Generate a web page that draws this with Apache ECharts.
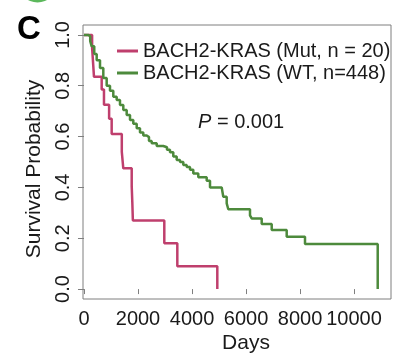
<!DOCTYPE html>
<html>
<head>
<meta charset="utf-8">
<script src="https://cdn.jsdelivr.net/npm/echarts@6/dist/echarts.min.js"></script>
<style>
  html, body { margin: 0; padding: 0; background: #fff; }
  #main { width: 399px; height: 356px; }
</style>
</head>
<body>
<div id="main"></div>
<script>
// Kaplan-Meier curves (days, survival after the drop)
const mutDays = [0, 300, 370, 655, 740, 930, 1025, 1400, 1455, 1767, 1790, 1810, 2974, 3456, 4937];
const mutSurv = [1.0, 0.95, 0.835, 0.785, 0.725, 0.67, 0.61, 0.54, 0.475, 0.405, 0.34, 0.27, 0.18, 0.09, 0.0];

const wtDays = [0, 150, 230, 285, 380, 470, 593, 715, 840, 963, 1085, 1211, 1333, 1456, 1581, 1704,
  1826, 1952, 2074, 2196, 2322, 2407, 2507, 2693, 2937, 3074, 3185, 3307, 3433, 3556, 3678, 3804,
  3926, 4048, 4233, 4544, 4667, 5100, 5159, 5285, 5344, 6148, 6210, 6581, 6952, 7507, 8185, 10878];
const wtSurv = [1.0, 0.995, 0.975, 0.955, 0.925, 0.9, 0.87, 0.83, 0.8, 0.78, 0.757, 0.744, 0.724, 0.705, 0.685, 0.665,
  0.65, 0.633, 0.616, 0.604, 0.598, 0.583, 0.574, 0.563, 0.558, 0.548, 0.538, 0.522, 0.508, 0.5, 0.488, 0.48,
  0.47, 0.455, 0.44, 0.426, 0.4, 0.396, 0.363, 0.337, 0.314, 0.29, 0.278, 0.256, 0.232, 0.206, 0.177, 0.0];

const seriesNames = ['BACH2-KRAS (Mut, n = 20)', 'BACH2-KRAS (WT, n=448)'];
const xTicks = [0, 2000, 4000, 6000, 8000, 10000];
const yTicks = [0, 0.2, 0.4, 0.6, 0.8, 1.0];

const mutColor = '#bf3f6d';
const wtColor = '#4d8a3c';
const font = 'Liberation Sans, Arial, Helvetica, sans-serif';

const chart = echarts.init(document.getElementById('main'));

const option = {
  animation: false,
  backgroundColor: '#fff',
  grid: {
    left: 83, top: 25, width: 308, height: 274,
    show: true, borderColor: '#7f7f7f', borderWidth: 1, backgroundColor: 'transparent'
  },
  legend: {
    orient: 'vertical',
    left: 112, top: 36,
    itemWidth: 21, itemHeight: 3, itemGap: 2,
    icon: 'rect',
    data: seriesNames,
    textStyle: { fontFamily: font, fontSize: 20, color: '#1a1a1a', lineHeight: 20 }
  },
  xAxis: {
    type: 'value', min: -37, max: 11370,
    axisLine: { show: false },
    splitLine: { show: false },
    axisTick: { show: true, length: 5, customValues: xTicks, lineStyle: { color: '#7f7f7f' } },
    axisLabel: {
      customValues: xTicks, margin: 10, hideOverlap: false,
      fontFamily: font, fontSize: 20, color: '#1a1a1a',
      formatter: v => String(v)
    }
  },
  yAxis: {
    type: 'value', min: -0.039, max: 1.039,
    axisLine: { show: false },
    splitLine: { show: false },
    axisTick: { show: true, length: 6, customValues: yTicks, lineStyle: { color: '#7f7f7f' } },
    axisLabel: {
      customValues: yTicks, rotate: 90, margin: 10,
      fontFamily: font, fontSize: 20, color: '#1a1a1a',
      formatter: v => v.toFixed(1)
    }
  },
  graphic: [
    { type: 'circle', shape: { cx: 37.5, cy: -16.8, r: 19.3 }, style: { fill: '#5cb85c' } },
    { type: 'text', left: 17, top: 13, style: { text: 'C', font: 'bold 33px ' + font, fill: '#000' } },
    { type: 'text', x: 34, y: 169, rotation: Math.PI / 2,
      style: { text: 'Survival Probability', font: '21px ' + font, fill: '#1a1a1a', align: 'center', verticalAlign: 'middle' } },
    { type: 'text', x: 246, y: 343,
      style: { text: 'Days', font: '21px ' + font, fill: '#1a1a1a', align: 'center', verticalAlign: 'middle' } },
    { type: 'text', x: 198, y: 122,
      style: {
        text: '{i|P} = 0.001', align: 'left', verticalAlign: 'middle',
        font: '20px ' + font, fill: '#1a1a1a',
        rich: { i: { fontStyle: 'italic', fontFamily: font, fontSize: 20, fill: '#1a1a1a' } }
      } }
  ],
  series: [
    {
      name: seriesNames[0], type: 'line', step: 'end', showSymbol: false,
      data: mutDays.map((d, i) => [d, mutSurv[i]]),
      lineStyle: { color: mutColor, width: 2.5 }, itemStyle: { color: mutColor }
    },
    {
      name: seriesNames[1], type: 'line', step: 'end', showSymbol: false,
      data: wtDays.map((d, i) => [d, wtSurv[i]]),
      lineStyle: { color: wtColor, width: 2.5 }, itemStyle: { color: wtColor }
    }
  ]
};

chart.setOption(option);
</script>
</body>
</html>
